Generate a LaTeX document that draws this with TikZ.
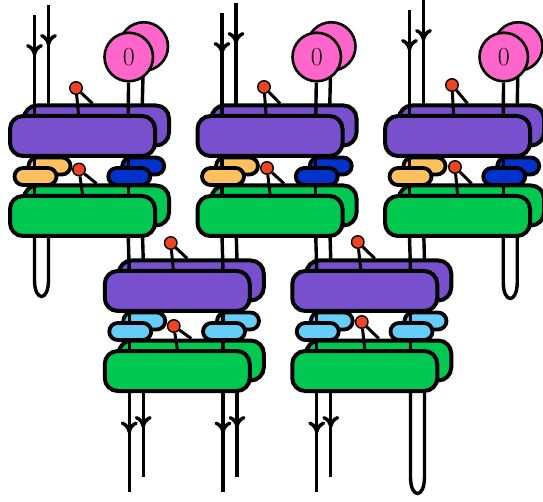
\documentclass[tikz,border=0pt]{standalone}
\usepackage{fontspec}
\usepackage{tikz}
\usetikzlibrary{arrows.meta,decorations.markings}

\definecolor{purp}{HTML}{7850CD}
\definecolor{grn}{HTML}{00C850}
\definecolor{yel}{HTML}{FFC060}
\definecolor{dblu}{HTML}{0033CC}
\definecolor{lblu}{HTML}{66CCF8}
\definecolor{pnk}{HTML}{FF66CC}
\definecolor{rd}{HTML}{EE4422}

\newcommand\tnpoints[3]{%
  \coordinate (#1o) at (#2,#3);
  \coordinate (#1at) at (#2+25,#3);
  \coordinate (#1ab) at (#2+25,#3+121);
  \coordinate (#1bt) at (#2+118.75,#3);
  \coordinate (#1bb) at (#2+118.75,#3+121);
}
\newcommand\tnlayer[3]{%
  \draw[leg] (#1at) -- (#1ab);
  \draw[leg] (#1bt) -- (#1bb);
  \node[bigbox,fill=purp] (#1p) at ([shift={(73,20.5)}]#1o) {};
  \node[smallbox,fill=#2] (#1l) at ([shift={(26,61)}]#1o) {};
  \node[smallbox,fill=#3] (#1r) at ([shift={(119.75,61)}]#1o) {};
  \node[bigbox,fill=grn] (#1g) at ([shift={(73,100.5)}]#1o) {};
}

\begin{document}
\begin{tikzpicture}[
  x=1pt,y=-1pt,
  bigbox/.style={draw,line width=4pt,rounded corners=13pt,minimum width=145pt,minimum height=40pt,inner sep=0pt},
  smallbox/.style={draw,line width=3.8pt,rounded corners=8.5pt,minimum width=42pt,minimum height=17pt,inner sep=0pt},
  leg/.style={line width=3.4pt},
  stick/.style={line width=3pt},
  arr/.style={postaction={decorate},decoration={markings,mark=at position #1 with {\arrow{To[length=12pt,width=17pt]}}}},
  arr/.default=41pt,
  ball/.style={circle,draw,line width=2.6pt,fill=pnk,minimum size=48.5pt,inner sep=0pt,font=\fontsize{26}{26}\selectfont},
  dot/.style={circle,draw,line width=1.4pt,fill=rd,minimum size=12.5pt,inner sep=0pt}
]
\useasboundingbox (0,0) rectangle (543,502);

\tnpoints{f1}{9.5}{115.5}
\tnpoints{f2}{197}{115.5}
\tnpoints{f3}{384.5}{115.5}
\tnpoints{f4}{104.25}{270.5}
\tnpoints{f5}{291.75}{270.5}
\tnpoints{b1}{23.5}{105}
\tnpoints{b2}{211}{105}
\tnpoints{b3}{398.5}{105}
\tnpoints{b4}{118.25}{260}
\tnpoints{b5}{305.75}{260}

\coordinate (i1f) at (34.5,15);
\coordinate (i1b) at (48.5,5);
\coordinate (i2f) at (222,13);
\coordinate (i2b) at (236,3);
\coordinate (i3f) at (409.5,10);
\coordinate (i3b) at (423.5,0);
\coordinate (o4af) at (129.25,492);
\coordinate (o4ab) at (143.25,477);
\coordinate (o4bf) at (223,492);
\coordinate (o4bb) at (237,477);
\coordinate (o5af) at (316.75,492);
\coordinate (o5ab) at (330.75,477);
\coordinate (u1f) at (34.5,280);
\coordinate (u1b) at (48.5,280);
\coordinate (u3f) at (503.25,282);
\coordinate (u3b) at (517.25,282);
\coordinate (u5f) at (410.5,477);
\coordinate (u5b) at (424.5,477);

% back layer
\draw[leg,arr] (i1b) -- (b1at);
\draw[leg,arr] (i2b) -- (b2at);
\draw[leg,arr] (i3b) -- (b3at);
\node[ball] (c1b) at (143.75,46.5) {};
\node[ball] (c2b) at (331.25,46.5) {};
\node[ball] (c3b) at (518.25,46.5) {};
\draw[leg] (c1b) -- (b1bt);
\draw[leg] (c2b) -- (b2bt);
\draw[leg] (c3b) -- (b3bt);
\draw[leg] (b1bb) -- (b4at);
\draw[leg] (b2ab) -- (b4bt);
\draw[leg] (b2bb) -- (b5at);
\draw[leg] (b3ab) -- (b5bt);
\draw[leg,arr=47pt] (b4ab) -- (o4ab);
\draw[leg,arr=47pt] (b4bb) -- (o4bb);
\draw[leg,arr=47pt] (b5ab) -- (o5ab);
\draw[leg] (f1ab) -- (u1f) .. controls +(0,22) and +(0,22) .. (u1b) -- (b1ab);
\draw[leg] (f3bb) -- (u3f) .. controls +(0,22) and +(0,22) .. (u3b) -- (b3bb);
\draw[leg] (f5bb) -- (u5f) .. controls +(0,22) and +(0,22) .. (u5b) -- (b5bb);

\tnlayer{b1}{yel}{dblu}
\tnlayer{b2}{yel}{dblu}
\tnlayer{b3}{yel}{dblu}
\tnlayer{b4}{lblu}{lblu}
\tnlayer{b5}{lblu}{lblu}

% front layer
\draw[leg,arr] (i1f) -- (f1at);
\draw[leg,arr] (i2f) -- (f2at);
\draw[leg,arr] (i3f) -- (f3at);
\node[ball] (c1f) at (128.75,57) {0};
\node[ball] (c2f) at (316.75,57) {0};
\node[ball] (c3f) at (503.75,57) {0};
\draw[leg] (c1f) -- (f1bt);
\draw[leg] (c2f) -- (f2bt);
\draw[leg] (c3f) -- (f3bt);
\draw[leg] (f1bb) -- (f4at);
\draw[leg] (f2ab) -- (f4bt);
\draw[leg] (f2bb) -- (f5at);
\draw[leg] (f3ab) -- (f5bt);
\draw[leg,arr=42pt] (f4ab) -- (o4af);
\draw[leg,arr=42pt] (f4bb) -- (o4bf);
\draw[leg,arr=42pt] (f5ab) -- (o5af);

\tnlayer{f1}{yel}{dblu}
\tnlayer{f2}{yel}{dblu}
\tnlayer{f3}{yel}{dblu}
\tnlayer{f4}{lblu}{lblu}
\tnlayer{f5}{lblu}{lblu}

% copy dots
\node[dot] (d1) at (76,88) {};
\node[dot] (d2) at (264,87) {};
\node[dot] (d3) at (452,85) {};
\node[dot] (d4) at (170.75,243) {};
\node[dot] (d5) at (357.75,242) {};
\node[dot] (e1) at (79,169.5) {};
\node[dot] (e2) at (267,168) {};
\node[dot] (e3) at (455,167) {};
\node[dot] (e4) at (173.75,326) {};
\node[dot] (e5) at (361.75,322) {};
\draw[stick] (d1) -- ([xshift=-4pt]f1p.north);
\draw[stick] (d1) -- ([xshift=-4pt]b1p.north);
\draw[stick] (d2) -- ([xshift=-4pt]f2p.north);
\draw[stick] (d2) -- ([xshift=-4pt]b2p.north);
\draw[stick] (d3) -- ([xshift=-4pt]f3p.north);
\draw[stick] (d3) -- ([xshift=-4pt]b3p.north);
\draw[stick] (d4) -- ([xshift=-4pt]f4p.north);
\draw[stick] (d4) -- ([xshift=-4pt]b4p.north);
\draw[stick] (d5) -- ([xshift=-4pt]f5p.north);
\draw[stick] (d5) -- ([xshift=-4pt]b5p.north);
\draw[stick] (e1) -- (f1g.north);
\draw[stick] (e1) -- (b1g.north);
\draw[stick] (e2) -- (f2g.north);
\draw[stick] (e2) -- (b2g.north);
\draw[stick] (e3) -- (f3g.north);
\draw[stick] (e3) -- (b3g.north);
\draw[stick] (e4) -- (f4g.north);
\draw[stick] (e4) -- (b4g.north);
\draw[stick] (e5) -- (f5g.north);
\draw[stick] (e5) -- (b5g.north);
\end{tikzpicture}
\end{document}
